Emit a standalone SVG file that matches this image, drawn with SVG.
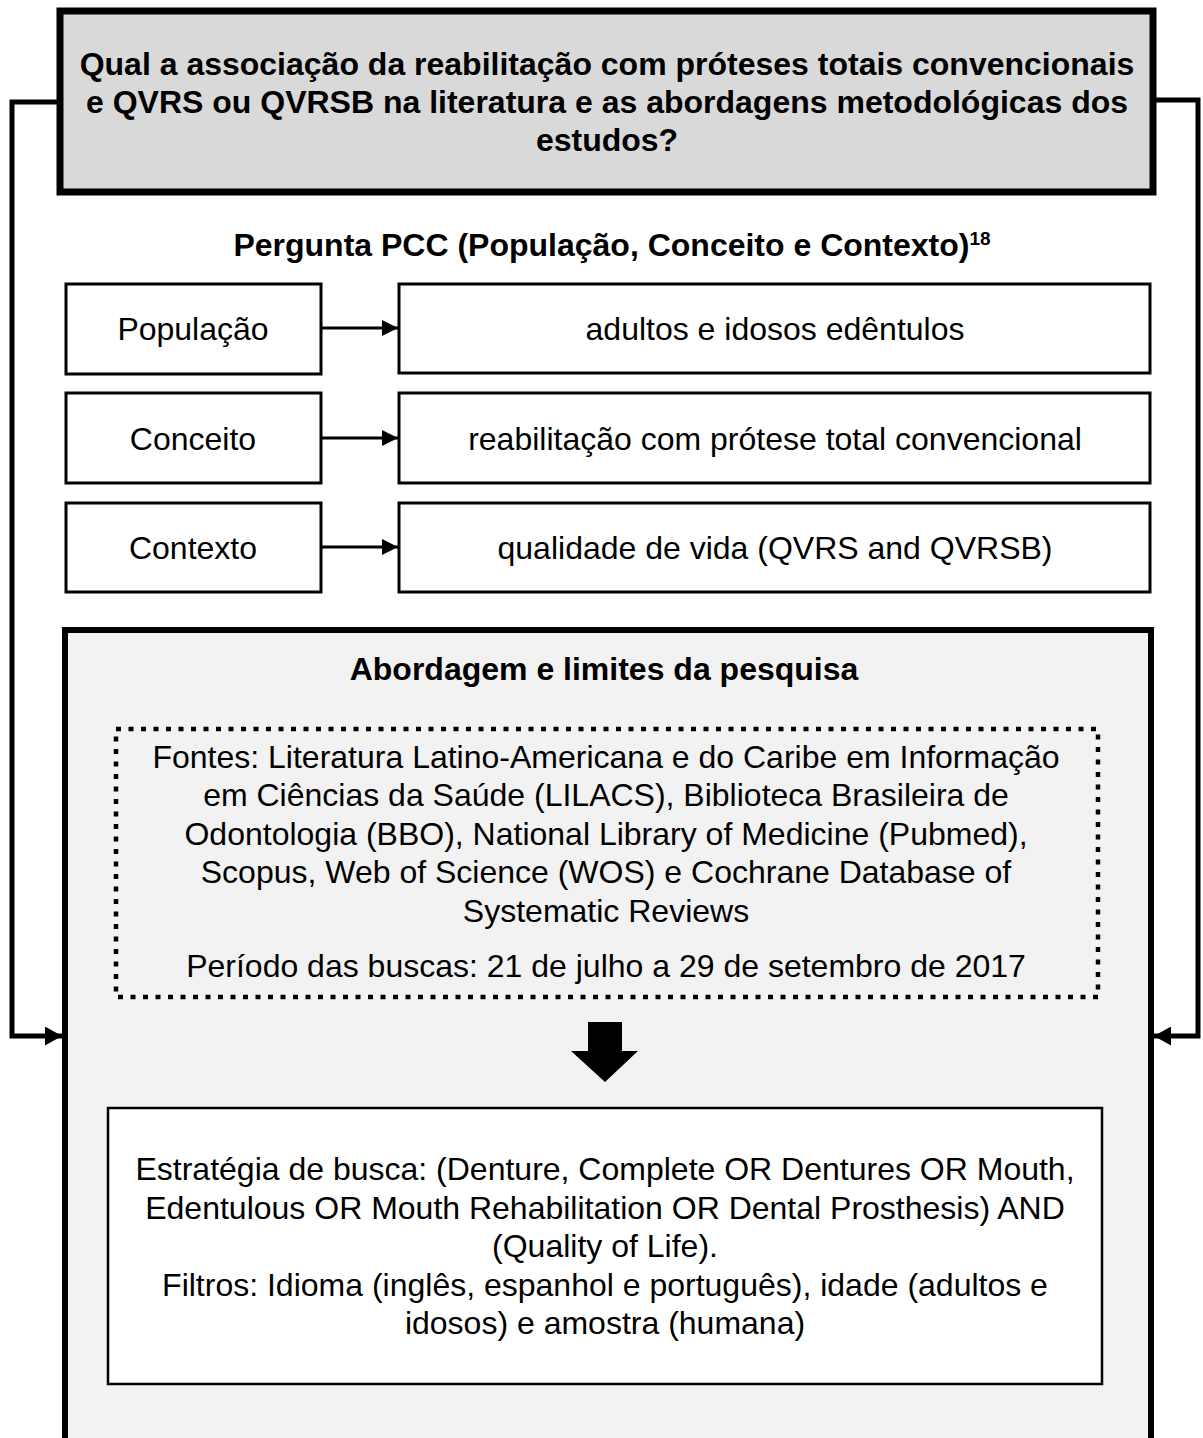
<svg xmlns="http://www.w3.org/2000/svg" width="1203" height="1438" viewBox="0 0 1203 1438">
<defs>
<style>
text{font-family:"Liberation Sans",Arial,sans-serif;fill:#000;text-anchor:middle}
.b{font-weight:bold;font-size:32px}
.t{font-size:32px}
.box{fill:#fff;stroke:#000;stroke-width:3}
.conn{fill:none;stroke:#000;stroke-width:5}
.sm{stroke:#000;stroke-width:3}
</style>
<marker id="ah" markerWidth="16" markerHeight="16" refX="16" refY="8" orient="auto" markerUnits="userSpaceOnUse" viewBox="0 0 16 16">
<path d="M0,0 L16,8 L0,16 z" fill="#000"/>
</marker>
<marker id="ah2" markerWidth="17" markerHeight="19" refX="17" refY="9.5" orient="auto" markerUnits="userSpaceOnUse" viewBox="0 0 17 19">
<path d="M0,0 L17,9.5 L0,19 z" fill="#000"/>
</marker>
</defs>
<rect width="1203" height="1438" fill="#fff"/>
<g id="connectors">
<polyline class="conn" points="60,102 12,102 12,1036 62,1036" marker-end="url(#ah2)"/>
<polyline class="conn" points="1153,100 1198,100 1198,1036 1154,1036" marker-end="url(#ah2)"/>
<line class="sm" x1="321" y1="328" x2="398" y2="328" marker-end="url(#ah)"/>
<line class="sm" x1="321" y1="438" x2="398" y2="438" marker-end="url(#ah)"/>
<line class="sm" x1="321" y1="547" x2="398" y2="547" marker-end="url(#ah)"/>
</g>
<g id="question">
<rect x="60" y="11" width="1093" height="181" fill="#d9d9d9" stroke="#000" stroke-width="7"/>
<text class="b" x="607" y="75">Qual a associação da reabilitação com próteses totais convencionais</text>
<text class="b" x="607" y="113">e QVRS ou QVRSB na literatura e as abordagens metodológicas dos</text>
<text class="b" x="607" y="151">estudos?</text>
</g>
<g id="pcc-title">
<text class="b" x="612" y="256">Pergunta PCC (População, Conceito e Contexto)<tspan dy="-11" style="font-size:19px">18</tspan></text>
</g>
<g id="populacao">
<rect class="box" x="66" y="284" width="255" height="90"/>
<text class="t" x="193" y="340">População</text>
</g>
<g id="populacao-def">
<rect class="box" x="399" y="284" width="751" height="89"/>
<text class="t" x="775" y="340">adultos e idosos edêntulos</text>
</g>
<g id="conceito">
<rect class="box" x="66" y="393" width="255" height="90"/>
<text class="t" x="193" y="450">Conceito</text>
</g>
<g id="conceito-def">
<rect class="box" x="399" y="393" width="751" height="90"/>
<text class="t" x="775" y="450">reabilitação com prótese total convencional</text>
</g>
<g id="contexto">
<rect class="box" x="66" y="503" width="255" height="89"/>
<text class="t" x="193" y="559">Contexto</text>
</g>
<g id="contexto-def">
<rect class="box" x="399" y="503" width="751" height="89"/>
<text class="t" x="775" y="559">qualidade de vida (QVRS and QVRSB)</text>
</g>
<g id="abordagem">
<rect x="65" y="630" width="1086" height="830" fill="#f2f2f2" stroke="#000" stroke-width="6"/>
<text class="b" x="604" y="680">Abordagem e limites da pesquisa</text>
</g>
<g id="fontes">
<rect x="116" y="729" width="982" height="268" fill="none" stroke="#000" stroke-width="4.5" stroke-dasharray="5 7.5"/>
<text class="t" x="606" y="768">Fontes: Literatura Latino-Americana e do Caribe em Informação</text>
<text class="t" x="606" y="806">em Ciências da Saúde (LILACS), Biblioteca Brasileira de</text>
<text class="t" x="606" y="845">Odontologia (BBO), National Library of Medicine (Pubmed),</text>
<text class="t" x="606" y="883">Scopus, Web of Science (WOS) e Cochrane Database of</text>
<text class="t" x="606" y="922">Systematic Reviews</text>
<text class="t" x="606" y="977">Período das buscas: 21 de julho a 29 de setembro de 2017</text>
</g>
<g id="big-arrow">
<path d="M588,1022 L622,1022 L622,1051 L638,1051 L605,1082 L571,1051 L588,1051 z" fill="#000"/>
</g>
<g id="estrategia">
<rect x="108" y="1108" width="994" height="276" fill="#fff" stroke="#000" stroke-width="2.5"/>
<text class="t" x="605" y="1180">Estratégia de busca: (Denture, Complete OR Dentures OR Mouth,</text>
<text class="t" x="605" y="1219">Edentulous OR Mouth Rehabilitation OR Dental Prosthesis) AND</text>
<text class="t" x="605" y="1257">(Quality of Life).</text>
<text class="t" x="605" y="1296">Filtros: Idioma (inglês, espanhol e português), idade (adultos e</text>
<text class="t" x="605" y="1334">idosos) e amostra (humana)</text>
</g>
</svg>
